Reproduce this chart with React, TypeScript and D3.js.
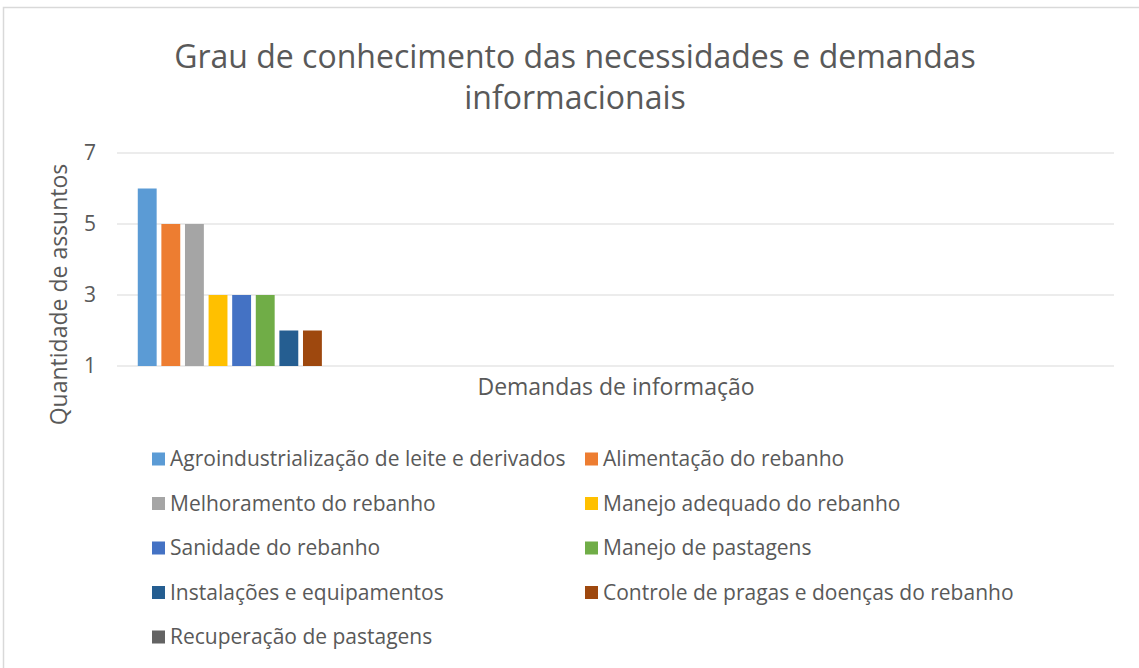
import React from "react";
import * as d3 from "d3";

const title = ["Grau de conhecimento das necessidades e demandas", "informacionais"];
const categories = ["Demandas de informação"];
const seriesNames = [
  "Agroindustrialização de leite e derivados",
  "Alimentação do rebanho",
  "Melhoramento do rebanho",
  "Manejo adequado do rebanho",
  "Sanidade do rebanho",
  "Manejo de pastagens",
  "Instalações e equipamentos",
  "Controle de pragas e doenças do rebanho",
  "Recuperação de pastagens",
];
const seriesValues = [6, 5, 5, 3, 3, 3, 2, 2, 1];
const colors = ["#5B9BD5", "#ED7D31", "#A5A5A5", "#FFC000", "#4472C4", "#70AD47", "#255E91", "#9E480E", "#636363"];
const yTicks = [1, 3, 5, 7];
const yTitle = "Quantidade de assuntos";

const W = 1139, H = 668;
const plot = { left: 117, right: 1114, top: 153, bottom: 366 };
const font = "'Open Sans', 'Noto Sans', sans-serif";
const textColor = "#595959";

export default function App() {
  const y = d3.scaleLinear().domain([1, 7]).range([plot.bottom, plot.top]);
  const slot = (plot.right - plot.left) / 4;
  const x0 = d3.scaleBand().domain(categories).range([plot.left, plot.left + slot]).paddingInner(0).paddingOuter(0.1);
  const x1 = d3.scaleBand().domain(seriesNames).range([0, x0.bandwidth()]).paddingInner(0.2).paddingOuter(0.0);

  const legendCols = [152, 585];
  const legendRow0 = 459, legendStep = 44.5;

  return (
    <div style={{ position: "absolute", left: 0, top: 0 }}>
      <svg width={W} height={H} style={{ display: "block", background: "#fff" }}>
        <rect x={3.5} y={7.5} width={W + 10} height={H + 10} fill="#fff" stroke="#d9d9d9" strokeWidth={1.5} />
        {title.map((t, i) => (
          <text key={i} x={575} y={68 + i * 41} textAnchor="middle" fontFamily={font} fontSize={32} fill={textColor}>{t}</text>
        ))}
        {yTicks.map((t) => (
          <g key={t}>
            <line x1={plot.left} x2={plot.right} y1={y(t)} y2={y(t)} stroke="#d9d9d9" strokeWidth={1} />
            <text x={96} y={y(t)} dy="0.35em" textAnchor="end" fontFamily={font} fontSize={21} fill={textColor}>{t}</text>
          </g>
        ))}
        <text transform={`translate(67,${(plot.top + plot.bottom) / 2 + 35}) rotate(-90)`} textAnchor="middle" fontFamily={font} fontSize={23} fill={textColor}>{yTitle}</text>
        {categories.map((c) => (
          <g key={c}>
            {seriesNames.map((s, i) => {
              const bx = (x0(c) as number) + (x1(s) as number);
              const by = y(seriesValues[i]);
              return <rect key={s} x={bx} y={by} width={x1.bandwidth()} height={plot.bottom - by} fill={colors[i]} />;
            })}
            <text x={616} y={395} textAnchor="middle" fontFamily={font} fontSize={23} fill={textColor}>{c}</text>
          </g>
        ))}
        {seriesNames.map((s, i) => {
          const col = i % 2, row = Math.floor(i / 2);
          const lx = legendCols[col], ly = legendRow0 + row * legendStep;
          return (
            <g key={s}>
              <rect x={lx} y={ly - 6.5} width={13} height={13} fill={colors[i]} />
              <text x={lx + 18} y={ly} dy="0.35em" fontFamily={font} fontSize={21} fill={textColor}>{s}</text>
            </g>
          );
        })}
      </svg>
    </div>
  );
}
